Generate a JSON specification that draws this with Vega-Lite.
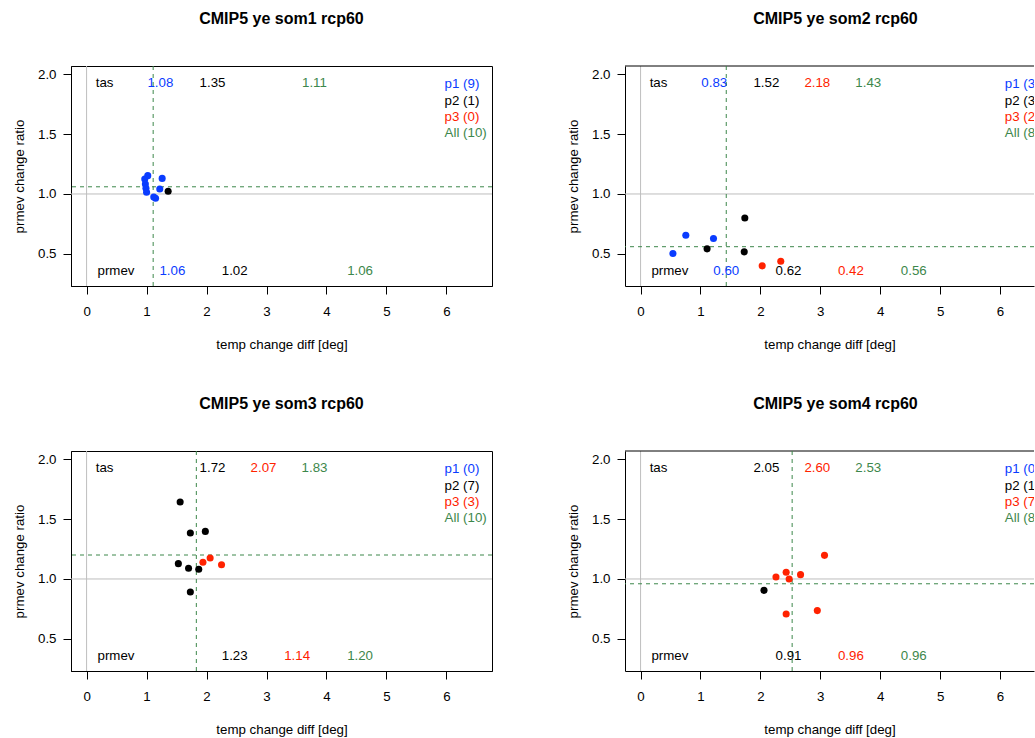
{
  "$schema": "https://vega.github.io/schema/vega-lite/v6.json",
  "padding": {"left": 12, "top": 10, "right": 0, "bottom": 0},
  "background": "white",
  "datasets": {
    "points": [
      {"panel": "som1", "grp": "p1", "x": 1.02, "y": 1.153},
      {"panel": "som1", "grp": "p1", "x": 0.97, "y": 1.125},
      {"panel": "som1", "grp": "p1", "x": 0.98, "y": 1.083},
      {"panel": "som1", "grp": "p1", "x": 0.99, "y": 1.047},
      {"panel": "som1", "grp": "p1", "x": 1.0, "y": 1.014},
      {"panel": "som1", "grp": "p1", "x": 1.15, "y": 0.964},
      {"panel": "som1", "grp": "p1", "x": 1.22, "y": 1.042},
      {"panel": "som1", "grp": "p1", "x": 1.26, "y": 1.13},
      {"panel": "som1", "grp": "p1", "x": 1.12, "y": 0.975},
      {"panel": "som1", "grp": "p2", "x": 1.36, "y": 1.022},
      {"panel": "som2", "grp": "p1", "x": 0.54, "y": 0.503},
      {"panel": "som2", "grp": "p1", "x": 0.755, "y": 0.656},
      {"panel": "som2", "grp": "p1", "x": 1.217, "y": 0.628},
      {"panel": "som2", "grp": "p2", "x": 1.11, "y": 0.542},
      {"panel": "som2", "grp": "p2", "x": 1.74, "y": 0.8},
      {"panel": "som2", "grp": "p2", "x": 1.73, "y": 0.517},
      {"panel": "som2", "grp": "p3", "x": 2.03, "y": 0.4},
      {"panel": "som2", "grp": "p3", "x": 2.34, "y": 0.439},
      {"panel": "som3", "grp": "p2", "x": 1.56, "y": 1.642},
      {"panel": "som3", "grp": "p2", "x": 1.73, "y": 1.383},
      {"panel": "som3", "grp": "p2", "x": 1.98, "y": 1.397},
      {"panel": "som3", "grp": "p2", "x": 1.53, "y": 1.128},
      {"panel": "som3", "grp": "p2", "x": 1.7, "y": 1.089},
      {"panel": "som3", "grp": "p2", "x": 1.87, "y": 1.081},
      {"panel": "som3", "grp": "p2", "x": 1.73, "y": 0.892},
      {"panel": "som3", "grp": "p3", "x": 1.94, "y": 1.139},
      {"panel": "som3", "grp": "p3", "x": 2.06, "y": 1.175},
      {"panel": "som3", "grp": "p3", "x": 2.25, "y": 1.119},
      {"panel": "som4", "grp": "p2", "x": 2.06, "y": 0.905},
      {"panel": "som4", "grp": "p3", "x": 2.26, "y": 1.017},
      {"panel": "som4", "grp": "p3", "x": 2.43, "y": 1.056},
      {"panel": "som4", "grp": "p3", "x": 2.48, "y": 1.0},
      {"panel": "som4", "grp": "p3", "x": 2.67, "y": 1.036},
      {"panel": "som4", "grp": "p3", "x": 3.07, "y": 1.197},
      {"panel": "som4", "grp": "p3", "x": 2.43, "y": 0.708},
      {"panel": "som4", "grp": "p3", "x": 2.95, "y": 0.736}
    ],
    "means": [
      {"panel": "som1", "x": 1.11, "y": 1.06},
      {"panel": "som2", "x": 1.43, "y": 0.56},
      {"panel": "som3", "x": 1.83, "y": 1.2},
      {"panel": "som4", "x": 2.53, "y": 0.96}
    ],
    "stats": [
      {"panel": "som1", "grp": "lab", "label": "tas", "x": 0.3, "y": 1.922},
      {"panel": "som1", "grp": "p1", "label": "1.08", "x": 1.23, "y": 1.922},
      {"panel": "som1", "grp": "p2", "label": "1.35", "x": 2.1, "y": 1.922},
      {"panel": "som1", "grp": "All", "label": "1.11", "x": 3.8, "y": 1.922},
      {"panel": "som1", "grp": "lab", "label": "prmev", "x": 0.49, "y": 0.361},
      {"panel": "som1", "grp": "p1", "label": "1.06", "x": 1.43, "y": 0.361},
      {"panel": "som1", "grp": "p2", "label": "1.02", "x": 2.47, "y": 0.361},
      {"panel": "som1", "grp": "All", "label": "1.06", "x": 4.56, "y": 0.361},
      {"panel": "som2", "grp": "lab", "label": "tas", "x": 0.3, "y": 1.922},
      {"panel": "som2", "grp": "p1", "label": "0.83", "x": 1.23, "y": 1.922},
      {"panel": "som2", "grp": "p2", "label": "1.52", "x": 2.1, "y": 1.922},
      {"panel": "som2", "grp": "p3", "label": "2.18", "x": 2.95, "y": 1.922},
      {"panel": "som2", "grp": "All", "label": "1.43", "x": 3.8, "y": 1.922},
      {"panel": "som2", "grp": "lab", "label": "prmev", "x": 0.49, "y": 0.361},
      {"panel": "som2", "grp": "p1", "label": "0.60", "x": 1.43, "y": 0.361},
      {"panel": "som2", "grp": "p2", "label": "0.62", "x": 2.47, "y": 0.361},
      {"panel": "som2", "grp": "p3", "label": "0.42", "x": 3.51, "y": 0.361},
      {"panel": "som2", "grp": "All", "label": "0.56", "x": 4.56, "y": 0.361},
      {"panel": "som3", "grp": "lab", "label": "tas", "x": 0.3, "y": 1.922},
      {"panel": "som3", "grp": "p2", "label": "1.72", "x": 2.1, "y": 1.922},
      {"panel": "som3", "grp": "p3", "label": "2.07", "x": 2.95, "y": 1.922},
      {"panel": "som3", "grp": "All", "label": "1.83", "x": 3.8, "y": 1.922},
      {"panel": "som3", "grp": "lab", "label": "prmev", "x": 0.49, "y": 0.361},
      {"panel": "som3", "grp": "p2", "label": "1.23", "x": 2.47, "y": 0.361},
      {"panel": "som3", "grp": "p3", "label": "1.14", "x": 3.51, "y": 0.361},
      {"panel": "som3", "grp": "All", "label": "1.20", "x": 4.56, "y": 0.361},
      {"panel": "som4", "grp": "lab", "label": "tas", "x": 0.3, "y": 1.922},
      {"panel": "som4", "grp": "p2", "label": "2.05", "x": 2.1, "y": 1.922},
      {"panel": "som4", "grp": "p3", "label": "2.60", "x": 2.95, "y": 1.922},
      {"panel": "som4", "grp": "All", "label": "2.53", "x": 3.8, "y": 1.922},
      {"panel": "som4", "grp": "lab", "label": "prmev", "x": 0.49, "y": 0.361},
      {"panel": "som4", "grp": "p2", "label": "0.91", "x": 2.47, "y": 0.361},
      {"panel": "som4", "grp": "p3", "label": "0.96", "x": 3.51, "y": 0.361},
      {"panel": "som4", "grp": "All", "label": "0.96", "x": 4.56, "y": 0.361}
    ],
    "legend": [
      {"panel": "som1", "grp": "p1", "label": "p1 (9)", "x": 5.97, "y": 1.917},
      {"panel": "som1", "grp": "p2", "label": "p2 (1)", "x": 5.97, "y": 1.778},
      {"panel": "som1", "grp": "p3", "label": "p3 (0)", "x": 5.97, "y": 1.644},
      {"panel": "som1", "grp": "All", "label": "All (10)", "x": 5.97, "y": 1.511},
      {"panel": "som2", "grp": "p1", "label": "p1 (3)", "x": 6.08, "y": 1.917},
      {"panel": "som2", "grp": "p2", "label": "p2 (3)", "x": 6.08, "y": 1.778},
      {"panel": "som2", "grp": "p3", "label": "p3 (2)", "x": 6.08, "y": 1.644},
      {"panel": "som2", "grp": "All", "label": "All (8)", "x": 6.08, "y": 1.511},
      {"panel": "som3", "grp": "p1", "label": "p1 (0)", "x": 5.97, "y": 1.917},
      {"panel": "som3", "grp": "p2", "label": "p2 (7)", "x": 5.97, "y": 1.778},
      {"panel": "som3", "grp": "p3", "label": "p3 (3)", "x": 5.97, "y": 1.644},
      {"panel": "som3", "grp": "All", "label": "All (10)", "x": 5.97, "y": 1.511},
      {"panel": "som4", "grp": "p1", "label": "p1 (0)", "x": 6.08, "y": 1.917},
      {"panel": "som4", "grp": "p2", "label": "p2 (1)", "x": 6.08, "y": 1.778},
      {"panel": "som4", "grp": "p3", "label": "p3 (7)", "x": 6.08, "y": 1.644},
      {"panel": "som4", "grp": "All", "label": "All (8)", "x": 6.08, "y": 1.511}
    ]
  },
  "columns": 2,
  "spacing": {"row": 165, "column": 133},
  "bounds": "flush",
  "resolve": {"scale": {"x": "independent", "y": "independent"}},
  "concat": [
    {
      "width": 421, "height": 220,
      "title": {"text": "CMIP5 ye som1 rcp60"},
      "layer": [
        {"data": {"values": [{}]}, "mark": {"type": "rule", "color": "#bebebe"}, "encoding": {"x": {"datum": 0, "type": "quantitative", "title": "temp change diff [deg]", "scale": {"domain": [-0.26, 6.76], "nice": false, "zero": false}}}},
        {"data": {"values": [{}]}, "mark": {"type": "rule", "color": "#bebebe"}, "encoding": {"y": {"datum": 1, "type": "quantitative", "title": "prmev change ratio", "scale": {"domain": [0.232, 2.068], "nice": false, "zero": false}}}},
        {"data": {"name": "means"}, "transform": [{"filter": "datum.panel === 'som1'"}], "mark": {"type": "rule", "color": "#3d874b", "strokeDash": [4, 4]}, "encoding": {"x": {"field": "x", "type": "quantitative", "title": "temp change diff [deg]"}}},
        {"data": {"name": "means"}, "transform": [{"filter": "datum.panel === 'som1'"}], "mark": {"type": "rule", "color": "#3d874b", "strokeDash": [4, 4]}, "encoding": {"y": {"field": "y", "type": "quantitative", "title": "prmev change ratio"}}},
        {"data": {"name": "points"}, "transform": [{"filter": "datum.panel === 'som1'"}], "mark": {"type": "circle", "size": 50, "opacity": 1},
         "encoding": {
           "x": {"field": "x", "type": "quantitative", "title": "temp change diff [deg]", "axis": {"values": [0, 1, 2, 3, 4, 5, 6], "format": "d"}},
           "y": {"field": "y", "type": "quantitative", "title": "prmev change ratio", "axis": {"values": [0.5, 1, 1.5, 2], "format": ".1f"}},
           "color": {"field": "grp", "type": "nominal", "scale": {"domain": ["p1", "p2", "p3", "All", "lab"], "range": ["#0a3cff", "#000000", "#ff2200", "#3d874b", "#000000"]}, "legend": null}}},
        {"data": {"name": "stats"}, "transform": [{"filter": "datum.panel === 'som1'"}], "mark": {"type": "text", "fontSize": 13.3, "align": "center", "baseline": "middle"},
         "encoding": {"x": {"field": "x", "type": "quantitative", "title": "temp change diff [deg]"}, "y": {"field": "y", "type": "quantitative", "title": "prmev change ratio"}, "text": {"field": "label"},
           "color": {"field": "grp", "type": "nominal", "scale": {"domain": ["p1", "p2", "p3", "All", "lab"], "range": ["#0a3cff", "#000000", "#ff2200", "#3d874b", "#000000"]}, "legend": null}}},
        {"data": {"name": "legend"}, "transform": [{"filter": "datum.panel === 'som1'"}], "mark": {"type": "text", "fontSize": 13.3, "align": "left", "baseline": "middle"},
         "encoding": {"x": {"field": "x", "type": "quantitative", "title": "temp change diff [deg]"}, "y": {"field": "y", "type": "quantitative", "title": "prmev change ratio"}, "text": {"field": "label"},
           "color": {"field": "grp", "type": "nominal", "scale": {"domain": ["p1", "p2", "p3", "All", "lab"], "range": ["#0a3cff", "#000000", "#ff2200", "#3d874b", "#000000"]}, "legend": null}}}
      ]
    },
    {
      "width": 409, "height": 220,
      "title": {"text": "CMIP5 ye som2 rcp60", "dx": 6},
      "view": {"stroke": null},
      "layer": [
        {"data": {"values": [{}]}, "mark": {"type": "rule", "color": "#bebebe"}, "encoding": {"x": {"datum": 0, "type": "quantitative", "title": "temp change diff [deg]", "scale": {"domain": [-0.26, 6.5667], "nice": false, "zero": false}}}},
        {"data": {"values": [{}]}, "mark": {"type": "rule", "color": "#bebebe"}, "encoding": {"y": {"datum": 1, "type": "quantitative", "title": "prmev change ratio", "scale": {"domain": [0.232, 2.068], "nice": false, "zero": false}}}},
        {"data": {"values": [{}]}, "mark": {"type": "rule", "color": "black"}, "encoding": {"y": {"datum": 2.068, "type": "quantitative", "title": "prmev change ratio"}}},
        {"data": {"name": "means"}, "transform": [{"filter": "datum.panel === 'som2'"}], "mark": {"type": "rule", "color": "#3d874b", "strokeDash": [4, 4]}, "encoding": {"x": {"field": "x", "type": "quantitative", "title": "temp change diff [deg]"}}},
        {"data": {"name": "means"}, "transform": [{"filter": "datum.panel === 'som2'"}], "mark": {"type": "rule", "color": "#3d874b", "strokeDash": [4, 4]}, "encoding": {"y": {"field": "y", "type": "quantitative", "title": "prmev change ratio"}}},
        {"data": {"name": "points"}, "transform": [{"filter": "datum.panel === 'som2'"}], "mark": {"type": "circle", "size": 50, "opacity": 1},
         "encoding": {
           "x": {"field": "x", "type": "quantitative", "title": "temp change diff [deg]", "axis": {"values": [0, 1, 2, 3, 4, 5, 6], "format": "d"}},
           "y": {"field": "y", "type": "quantitative", "title": "prmev change ratio", "axis": {"values": [0.5, 1, 1.5, 2], "format": ".1f"}},
           "color": {"field": "grp", "type": "nominal", "scale": {"domain": ["p1", "p2", "p3", "All", "lab"], "range": ["#0a3cff", "#000000", "#ff2200", "#3d874b", "#000000"]}, "legend": null}}},
        {"data": {"name": "stats"}, "transform": [{"filter": "datum.panel === 'som2'"}], "mark": {"type": "text", "fontSize": 13.3, "align": "center", "baseline": "middle", "clip": true},
         "encoding": {"x": {"field": "x", "type": "quantitative", "title": "temp change diff [deg]"}, "y": {"field": "y", "type": "quantitative", "title": "prmev change ratio"}, "text": {"field": "label"},
           "color": {"field": "grp", "type": "nominal", "scale": {"domain": ["p1", "p2", "p3", "All", "lab"], "range": ["#0a3cff", "#000000", "#ff2200", "#3d874b", "#000000"]}, "legend": null}}},
        {"data": {"name": "legend"}, "transform": [{"filter": "datum.panel === 'som2'"}], "mark": {"type": "text", "fontSize": 13.3, "align": "left", "baseline": "middle", "clip": true},
         "encoding": {"x": {"field": "x", "type": "quantitative", "title": "temp change diff [deg]"}, "y": {"field": "y", "type": "quantitative", "title": "prmev change ratio"}, "text": {"field": "label"},
           "color": {"field": "grp", "type": "nominal", "scale": {"domain": ["p1", "p2", "p3", "All", "lab"], "range": ["#0a3cff", "#000000", "#ff2200", "#3d874b", "#000000"]}, "legend": null}}}
      ]
    },
    {
      "width": 421, "height": 220,
      "title": {"text": "CMIP5 ye som3 rcp60"},
      "layer": [
        {"data": {"values": [{}]}, "mark": {"type": "rule", "color": "#bebebe"}, "encoding": {"x": {"datum": 0, "type": "quantitative", "title": "temp change diff [deg]", "scale": {"domain": [-0.26, 6.76], "nice": false, "zero": false}}}},
        {"data": {"values": [{}]}, "mark": {"type": "rule", "color": "#bebebe"}, "encoding": {"y": {"datum": 1, "type": "quantitative", "title": "prmev change ratio", "scale": {"domain": [0.232, 2.068], "nice": false, "zero": false}}}},
        {"data": {"name": "means"}, "transform": [{"filter": "datum.panel === 'som3'"}], "mark": {"type": "rule", "color": "#3d874b", "strokeDash": [4, 4]}, "encoding": {"x": {"field": "x", "type": "quantitative", "title": "temp change diff [deg]"}}},
        {"data": {"name": "means"}, "transform": [{"filter": "datum.panel === 'som3'"}], "mark": {"type": "rule", "color": "#3d874b", "strokeDash": [4, 4]}, "encoding": {"y": {"field": "y", "type": "quantitative", "title": "prmev change ratio"}}},
        {"data": {"name": "points"}, "transform": [{"filter": "datum.panel === 'som3'"}], "mark": {"type": "circle", "size": 50, "opacity": 1},
         "encoding": {
           "x": {"field": "x", "type": "quantitative", "title": "temp change diff [deg]", "axis": {"values": [0, 1, 2, 3, 4, 5, 6], "format": "d"}},
           "y": {"field": "y", "type": "quantitative", "title": "prmev change ratio", "axis": {"values": [0.5, 1, 1.5, 2], "format": ".1f"}},
           "color": {"field": "grp", "type": "nominal", "scale": {"domain": ["p1", "p2", "p3", "All", "lab"], "range": ["#0a3cff", "#000000", "#ff2200", "#3d874b", "#000000"]}, "legend": null}}},
        {"data": {"name": "stats"}, "transform": [{"filter": "datum.panel === 'som3'"}], "mark": {"type": "text", "fontSize": 13.3, "align": "center", "baseline": "middle"},
         "encoding": {"x": {"field": "x", "type": "quantitative", "title": "temp change diff [deg]"}, "y": {"field": "y", "type": "quantitative", "title": "prmev change ratio"}, "text": {"field": "label"},
           "color": {"field": "grp", "type": "nominal", "scale": {"domain": ["p1", "p2", "p3", "All", "lab"], "range": ["#0a3cff", "#000000", "#ff2200", "#3d874b", "#000000"]}, "legend": null}}},
        {"data": {"name": "legend"}, "transform": [{"filter": "datum.panel === 'som3'"}], "mark": {"type": "text", "fontSize": 13.3, "align": "left", "baseline": "middle"},
         "encoding": {"x": {"field": "x", "type": "quantitative", "title": "temp change diff [deg]"}, "y": {"field": "y", "type": "quantitative", "title": "prmev change ratio"}, "text": {"field": "label"},
           "color": {"field": "grp", "type": "nominal", "scale": {"domain": ["p1", "p2", "p3", "All", "lab"], "range": ["#0a3cff", "#000000", "#ff2200", "#3d874b", "#000000"]}, "legend": null}}}
      ]
    },
    {
      "width": 409, "height": 220,
      "title": {"text": "CMIP5 ye som4 rcp60", "dx": 6},
      "view": {"stroke": null},
      "layer": [
        {"data": {"values": [{}]}, "mark": {"type": "rule", "color": "#bebebe"}, "encoding": {"x": {"datum": 0, "type": "quantitative", "title": "temp change diff [deg]", "scale": {"domain": [-0.26, 6.5667], "nice": false, "zero": false}}}},
        {"data": {"values": [{}]}, "mark": {"type": "rule", "color": "#bebebe"}, "encoding": {"y": {"datum": 1, "type": "quantitative", "title": "prmev change ratio", "scale": {"domain": [0.232, 2.068], "nice": false, "zero": false}}}},
        {"data": {"values": [{}]}, "mark": {"type": "rule", "color": "black"}, "encoding": {"y": {"datum": 2.068, "type": "quantitative", "title": "prmev change ratio"}}},
        {"data": {"name": "means"}, "transform": [{"filter": "datum.panel === 'som4'"}], "mark": {"type": "rule", "color": "#3d874b", "strokeDash": [4, 4]}, "encoding": {"x": {"field": "x", "type": "quantitative", "title": "temp change diff [deg]"}}},
        {"data": {"name": "means"}, "transform": [{"filter": "datum.panel === 'som4'"}], "mark": {"type": "rule", "color": "#3d874b", "strokeDash": [4, 4]}, "encoding": {"y": {"field": "y", "type": "quantitative", "title": "prmev change ratio"}}},
        {"data": {"name": "points"}, "transform": [{"filter": "datum.panel === 'som4'"}], "mark": {"type": "circle", "size": 50, "opacity": 1},
         "encoding": {
           "x": {"field": "x", "type": "quantitative", "title": "temp change diff [deg]", "axis": {"values": [0, 1, 2, 3, 4, 5, 6], "format": "d"}},
           "y": {"field": "y", "type": "quantitative", "title": "prmev change ratio", "axis": {"values": [0.5, 1, 1.5, 2], "format": ".1f"}},
           "color": {"field": "grp", "type": "nominal", "scale": {"domain": ["p1", "p2", "p3", "All", "lab"], "range": ["#0a3cff", "#000000", "#ff2200", "#3d874b", "#000000"]}, "legend": null}}},
        {"data": {"name": "stats"}, "transform": [{"filter": "datum.panel === 'som4'"}], "mark": {"type": "text", "fontSize": 13.3, "align": "center", "baseline": "middle", "clip": true},
         "encoding": {"x": {"field": "x", "type": "quantitative", "title": "temp change diff [deg]"}, "y": {"field": "y", "type": "quantitative", "title": "prmev change ratio"}, "text": {"field": "label"},
           "color": {"field": "grp", "type": "nominal", "scale": {"domain": ["p1", "p2", "p3", "All", "lab"], "range": ["#0a3cff", "#000000", "#ff2200", "#3d874b", "#000000"]}, "legend": null}}},
        {"data": {"name": "legend"}, "transform": [{"filter": "datum.panel === 'som4'"}], "mark": {"type": "text", "fontSize": 13.3, "align": "left", "baseline": "middle", "clip": true},
         "encoding": {"x": {"field": "x", "type": "quantitative", "title": "temp change diff [deg]"}, "y": {"field": "y", "type": "quantitative", "title": "prmev change ratio"}, "text": {"field": "label"},
           "color": {"field": "grp", "type": "nominal", "scale": {"domain": ["p1", "p2", "p3", "All", "lab"], "range": ["#0a3cff", "#000000", "#ff2200", "#3d874b", "#000000"]}, "legend": null}}}
      ]
    }
  ],
  "config": {
    "font": "Liberation Sans",
    "view": {"stroke": "black", "strokeWidth": 1},
    "text": {"font": "Liberation Sans"},
    "axis": {"grid": false, "domain": true, "domainColor": "black", "tickColor": "black", "labelColor": "black", "titleColor": "black", "labelFont": "Liberation Sans", "titleFont": "Liberation Sans", "labelFontSize": 13.3, "titleFontSize": 13.3, "titleFontWeight": "normal", "tickSize": 8, "labelFlush": false, "labelOverlap": false},
    "axisX": {"labelPadding": 10, "titlePadding": 20, "labelAngle": 0},
    "axisY": {"labelPadding": 7, "titlePadding": 11},
    "title": {"font": "Liberation Sans", "fontSize": 16, "fontWeight": "bold", "color": "black", "anchor": "middle", "offset": 39}
  }
}
